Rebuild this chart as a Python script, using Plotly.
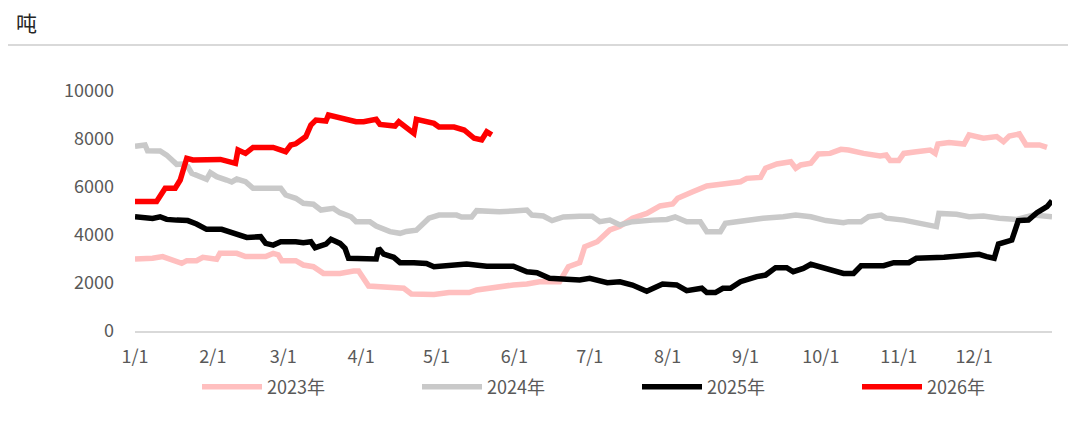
import plotly.graph_objects as go

# x positions are day-of-year offsets (0 = 1/1)
month_ticks = [0, 31, 59, 90, 120, 151, 181, 212, 243, 273, 304, 334]
month_labels = ["1/1", "2/1", "3/1", "4/1", "5/1", "6/1", "7/1", "8/1", "9/1", "10/1", "11/1", "12/1"]
yticks = [0, 2000, 4000, 6000, 8000, 10000]
ytick_labels = ["0", "2000", "4000", "6000", "8000", "10000"]

days_2023 = [0, 3, 7, 11, 15, 18.6, 20.6, 24.5, 27, 32.5, 33.8, 40.5, 44, 52, 55, 57, 58.4, 64, 67, 71, 75, 81.6, 87, 89,
             93, 99, 103, 107, 110, 119, 125, 133, 136, 141, 144, 150.6, 156, 161, 169, 172.5, 177, 179, 184, 186,
             189, 193, 198, 203.7, 209, 214, 216, 222, 227.6, 234, 241, 243.5, 249, 251, 255.5, 261, 263, 265, 269,
             272, 276.7, 281, 284, 290, 296.6, 299, 300.6, 304, 306, 311, 316.5, 318.5, 319.6, 324, 330, 332, 337.7,
             343, 345.7, 348, 352, 354.7, 360, 363]
vals_2023 = [3000, 3000, 3030, 3100, 2960, 2820, 2930, 2930, 3070, 2990, 3235, 3235, 3100, 3100, 3235, 3170, 2930, 2930,
             2750, 2680, 2400, 2400, 2500, 2500, 1875, 1845, 1780, 1780, 1540, 1520, 1600, 1600, 1710, 1780, 1850,
             1920, 1960, 2055, 2055, 2680, 2846, 3510, 3720, 3930, 4210, 4360, 4700, 4900, 5210, 5290, 5530, 5800,
             6040, 6125, 6220, 6360, 6400, 6780, 6960, 7055, 6780, 6920, 6990, 7375, 7400, 7570, 7540, 7400, 7290,
             7330, 7100, 7100, 7400, 7470, 7540, 7400, 7790, 7850, 7790, 8170, 8030, 8100, 7890, 8120, 8210, 7750,
             7750, 7650]

days_2024 = [0, 2, 4, 5, 10, 12.6, 15, 16.6, 19, 21, 22.6, 26, 28.5, 30, 32.5, 36.5, 38.5, 40.5, 44, 47, 52.4, 55, 58,
             60, 64, 67, 71, 74, 79, 81.6, 86, 88, 93.5, 96, 101.5, 105.5, 108, 112, 113.5, 117, 121, 128, 130, 134,
             136, 140, 145, 150.6, 156, 158, 162.5, 166, 170.5, 177, 182, 185, 189, 193, 198, 206, 211.7, 215, 219.6,
             225, 227.6, 233, 235, 239.5, 245, 250, 258, 263, 269, 275, 282, 284, 289, 292, 297, 299, 306, 311, 317.6,
             319, 320, 327, 332, 337.7, 344, 351, 357.6, 365]
vals_2024 = [7700, 7700, 7750, 7510, 7500, 7330, 7125, 6945, 6960, 6850, 6570, 6430, 6320, 6600, 6430, 6290, 6210, 6330,
             6220, 5945, 5945, 5990, 5945, 5667, 5530, 5320, 5280, 5040, 5110, 4930, 4760, 4555, 4555, 4375, 4140,
             4070, 4150, 4200, 4350, 4700, 4830, 4830, 4750, 4750, 5015, 4970, 4970, 5000, 5040, 4830, 4790, 4600,
             4750, 4780, 4780, 4555, 4620, 4420, 4555, 4620, 4650, 4750, 4555, 4555, 4140, 4140, 4485, 4555, 4650,
             4700, 4760, 4830, 4760, 4600, 4510, 4555, 4555, 4760, 4830, 4700, 4620, 4510, 4420, 4350, 4900, 4860,
             4760, 4790, 4700, 4650, 4830, 4760]

days_2025 = [0, 7, 10, 12.6, 16.6, 21, 24.5, 28.5, 34.5, 36.5, 40.5, 44.5, 50, 52, 55, 58, 64, 67, 70, 71.7, 76, 78,
             81.6, 83.6, 85, 89.6, 96, 97, 99, 103, 105.5, 111, 116, 119, 125, 132, 140, 150.6, 156, 160, 165, 172,
             177, 181, 188, 193, 198, 203.7, 210, 215.6, 219.6, 225.6, 227.6, 231, 234, 237, 241, 247.5, 251, 255,
             259.4, 262, 266, 269, 274, 279, 282, 286, 289, 298, 302, 308, 311, 322, 331, 336, 339, 342, 343.7, 349,
             351.6, 355.6, 359, 363, 365]
vals_2025 = [4760, 4690, 4760, 4650, 4620, 4600, 4460, 4236, 4236, 4180, 4040, 3900, 3930, 3650, 3580, 3720, 3720, 3680,
             3720, 3470, 3620, 3820, 3650, 3445, 3030, 3030, 3000, 3445, 3200, 3070, 2846, 2846, 2810, 2680, 2750,
             2790, 2700, 2700, 2470, 2430, 2195, 2150, 2125, 2195, 2015, 2050, 1917, 1660, 1960, 1920, 1680, 1780,
             1600, 1600, 1780, 1780, 2055, 2265, 2330, 2640, 2640, 2470, 2610, 2780, 2640, 2515, 2400, 2400, 2720,
             2720, 2846, 2846, 3030, 3070, 3120, 3195, 3100, 3030, 3625, 3790, 4600, 4625, 4930, 5180, 5430]

days_2026 = [0, 8.6, 12, 16, 18, 20.6, 23, 34, 40, 41, 44, 47, 55, 60, 62, 64, 68, 70, 72, 76, 77, 82, 88, 91, 96,
             97.5, 103.5, 105, 109, 111, 112, 116, 119, 121, 127, 131, 135, 138, 140, 142]
vals_2026 = [5400, 5400, 5950, 5950, 6290, 7195, 7125, 7150, 6986, 7540, 7400, 7650, 7650, 7470, 7750, 7800, 8100, 8580,
             8790, 8750, 9000, 8890, 8720, 8720, 8820, 8610, 8540, 8720, 8430, 8236, 8820, 8720, 8650, 8500, 8500,
             8375, 8030, 7960, 8300, 8170]

series = [
    ("2023年", days_2023, vals_2023, "#FFBFBF"),
    ("2024年", days_2024, vals_2024, "#C9C9C9"),
    ("2025年", days_2025, vals_2025, "#000000"),
    ("2026年", days_2026, vals_2026, "#FF0000"),
]

# page body has an 8px default margin; figure sits at (8, 8)
OFF = 8
W, H = 1076 - OFF, 436 - OFF
ml, mr, mt, mb = 135 - OFF, 24, 91 - OFF, 105
pw, ph = W - ml - mr, H - mt - mb
PLOT_BOTTOM = 331  # screen y of the x axis


def py(screen_y):
    return (PLOT_BOTTOM - screen_y) / ph


def px(screen_x):
    return (screen_x - 135) / pw


fig = go.Figure()
legend_names = ["legend", "legend2", "legend3", "legend4"]
for i, (name, xs, ys, color) in enumerate(series):
    fig.add_trace(go.Scatter(x=xs, y=ys, mode="lines", name=name, legend=legend_names[i],
                             line=dict(color=color, width=5.5)))

legend_common = dict(orientation="h", xanchor="left", yanchor="middle", y=py(387),
                     font=dict(size=18, color="#595959"), itemwidth=60, bgcolor="rgba(0,0,0,0)")
legend_layout = {}
for i, ln in enumerate(legend_names):
    legend_layout[ln] = dict(legend_common, x=px(197 + 220 * i))

fig.update_layout(
    width=W, height=H,
    margin=dict(l=ml, r=mr, t=mt, b=mb),
    paper_bgcolor="white", plot_bgcolor="white",
    font=dict(family="Noto Sans CJK SC, Open Sans, sans-serif", color="#595959", size=16),
    showlegend=True,
    xaxis=dict(range=[0, 365], tickmode="array", tickvals=month_ticks, ticktext=month_labels,
               showgrid=False, zeroline=False, showline=True, linecolor="#D9D9D9", linewidth=1.5,
               ticks="", tickfont=dict(size=18, color="#595959"), ticklabelstandoff=9, fixedrange=True),
    yaxis=dict(range=[0, 10000], tickmode="array", tickvals=yticks, ticktext=ytick_labels,
               showgrid=False, zeroline=False,
               showline=False, ticks="", tickfont=dict(size=18, color="#595959"), ticklabelstandoff=20,
               fixedrange=True),
    **legend_layout,
)

fig.add_annotation(text="吨", xref="paper", yref="paper", x=px(14), y=py(22),
                   xanchor="left", yanchor="middle", showarrow=False,
                   font=dict(size=21, color="#262626", family="Noto Sans CJK SC"))
fig.add_shape(type="line", xref="paper", yref="paper", x0=px(0), x1=px(1076),
              y0=py(45), y1=py(45), line=dict(color="#D9D9D9", width=2))

fig.write_html("out.html")
